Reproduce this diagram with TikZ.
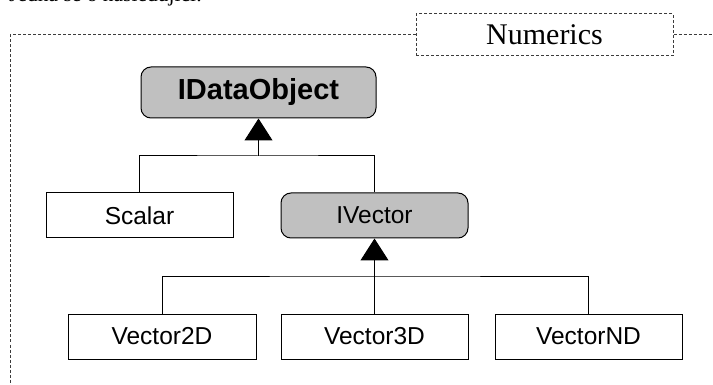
\documentclass[tikz,border=0pt]{standalone}
\usepackage{fontspec}
\setmainfont{Liberation Serif}
\setsansfont{Liberation Sans}
\usetikzlibrary{arrows.meta}
\definecolor{boxgray}{RGB}{192,192,192}
\definecolor{framegray}{RGB}{60,60,60}
\tikzset{
  classbox/.style={draw=black, line width=1pt, fill=white, inner sep=0pt,
    minimum width=187pt, minimum height=45pt,
    font=\sffamily\fontsize{24.5}{28}\selectfont},
  ifacebox/.style={classbox, fill=boxgray, rounded corners=10pt},
  framebox/.style={draw=framegray, line width=1pt, dash pattern=on 3pt off 2pt},
  conn/.style={draw=black, line width=1pt},
  inherit/.style={conn, -{Triangle[width=28pt,length=22pt]}},
}
\begin{document}
\begin{tikzpicture}[x=1pt,y=-1pt]
\useasboundingbox (0,0) rectangle (713,385);
\begin{scope}
\clip (0,0) rectangle (713,385);
\node[anchor=base west, inner sep=0pt, font=\fontsize{21.5}{24}\selectfont] (intro) at (9,2) {Jedná se o následující:};
\end{scope}
% frame
\node[framebox, fill=white, inner sep=0pt, minimum width=257pt, minimum height=42pt,
  font=\fontsize{30}{34}\selectfont] (numerics) at (544.5,35) {Numerics};
\coordinate (fcorner) at (10,35);
\coordinate (fbottom) at (10,385);
\coordinate (fright) at (713,35);
\draw[framebox] (numerics.west) -- (fcorner) -- (fbottom);
\draw[framebox] (numerics.east) -- (fright);
% classes
\node[ifacebox, minimum width=235pt, minimum height=51pt,
  font=\sffamily\bfseries\fontsize{29}{33}\selectfont] (ido) at (258.5,92.5) {IDataObject};
\node[classbox] (scalar) at (139.5,215.5) {Scalar};
\node[ifacebox] (ivec) at (374.5,215.5) {IVector};
\node[classbox, minimum width=188pt] (v2) at (162,336.5) {Vector2D};
\node[classbox] (v3) at (374.5,336.5) {Vector3D};
\node[classbox] (vN) at (588.5,336.5) {VectorND};
% connectors
\coordinate (j1) at (258.5,156);
\coordinate (j2) at (374.5,276);
\draw[inherit] (j1) -- (ido.south);
\draw[conn] (scalar.north) |- (j1) -| (ivec.north);
\draw[inherit] (v3.north) -- (ivec.south);
\draw[conn] (v2.north) |- (j2) -| (vN.north);
\end{tikzpicture}
\end{document}
